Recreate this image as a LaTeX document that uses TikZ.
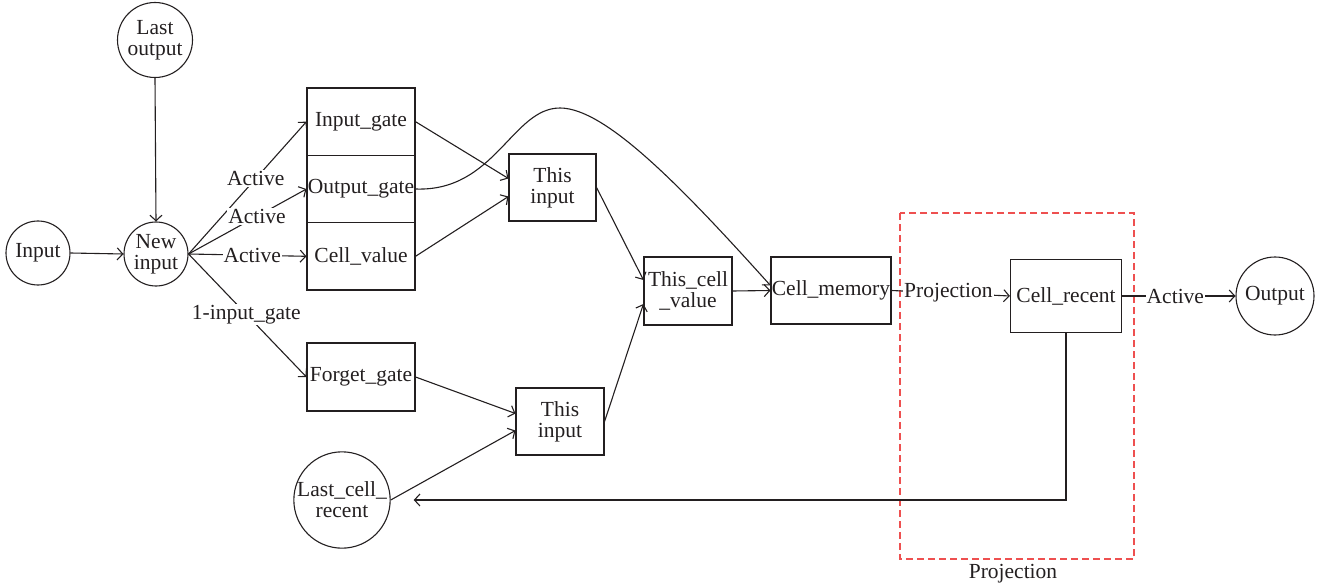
\documentclass[tikz,border=0pt]{standalone}
\usepackage{fontspec}
\setmainfont{Liberation Serif}
\usetikzlibrary{arrows.meta}
\definecolor{ink}{RGB}{35,31,32}
\definecolor{projred}{RGB}{238,80,80}
\begin{document}
\begin{tikzpicture}[x=1pt,y=-1pt,
  every node/.style={font=\fontsize{21.5}{21}\selectfont, text=ink},
  box/.style={draw=ink, line width=1.1pt, rectangle, inner sep=0pt, align=center},
  circ/.style={draw=ink, line width=1.1pt, circle, inner sep=0pt, align=center},
  arr/.style={draw=ink, line width=1.1pt, -{Straight Barb[length=5.5pt,width=12pt]}},
  lbl/.style={fill=white, inner sep=1pt},
  projbox/.style={draw=projred, line width=1.1pt, dash pattern=on 7pt off 4pt}]
\useasboundingbox (0,0) rectangle (1322,588);
% projection region
\draw[projbox] (900,213) rectangle (1134,559);
\node (projlbl) at (1013,574) {Projection};
% nodes
\node[circ, minimum size=75pt] (lo) at (155,40) {Last\\output};
\node[circ, minimum size=64pt] (in) at (38,253) {Input};
\node[circ, minimum size=64pt] (ni) at (156,254) {New\\input};
\node[box, minimum width=108pt, minimum height=67.3pt] (ig) at (361,121.7) {Input\_gate};
\node[box, minimum width=108pt, minimum height=67.3pt] (og) at (361,189) {Output\_gate};
\node[box, minimum width=108pt, minimum height=67.3pt] (cv) at (361,256.3) {Cell\_value};
\node[box, minimum width=108pt, minimum height=68pt] (fg) at (361,377) {Forget\_gate};
\node[box, minimum width=87pt, minimum height=67pt] (ti) at (552.5,187.5) {This\\input};
\node[box, minimum width=88pt, minimum height=67pt] (bi) at (560,421.5) {This\\input};
\node[box, minimum width=88pt, minimum height=68pt] (tcv) at (688,291) {This\_cell\\\_value};
\node[box, minimum width=120pt, minimum height=67pt] (cm) at (831,290.5) {Cell\_memory};
\node[box, minimum width=111pt, minimum height=73pt] (cr) at (1066,296) {Cell\_recent};
\node[circ, minimum size=78pt] (out) at (1275,296) {Output};
\node[circ, minimum size=86pt] (lcr) at (342,500) {Last\_cell\_\\recent};
% edges
\draw[arr] (lo.south) -- (ni.north);
\draw[arr] (in.east) -- (ni.west);
\draw[arr] (ni.east) -- node[lbl,pos=0.57]{Active} (ig.west);
\draw[arr] (ni.east) -- node[lbl,pos=0.58]{Active} (og.west);
\draw[arr] (ni.east) -- node[lbl,pos=0.54]{Active} (cv.west);
\draw[arr] (ni.east) -- node[lbl,pos=0.49]{1-input\_gate} (fg.west);
\draw[arr] (ig.east) -- ([yshift=9pt]ti.west);
\draw[arr] (cv.east) -- ([yshift=-9pt]ti.west);
\coordinate (pk) at (560,108);
\draw[arr] (og.east) .. controls (495,192) and (512,108) .. (pk)
  .. controls (605,108) and (680,185) .. ([yshift=5pt]cm.west);
\draw[arr] (ti.east) -- ([yshift=11pt]tcv.west);
\draw[arr] (bi.east) -- ([yshift=-13pt]tcv.west);
\draw[arr] (fg.east) -- ([yshift=8pt]bi.west);
\draw[arr] (lcr.east) -- ([yshift=-9pt]bi.west);
\draw[arr] (tcv.east) -- (cm.west);
\draw[arr] (cm.east) -- node[lbl,pos=0.48]{Projection} (cr.west);
\draw[arr] (cr.east) -- node[lbl,pos=0.47]{Active} (out.west);
\draw[arr] (cr.south) |- ([xshift=23pt]lcr.east);
\end{tikzpicture}
\end{document}
